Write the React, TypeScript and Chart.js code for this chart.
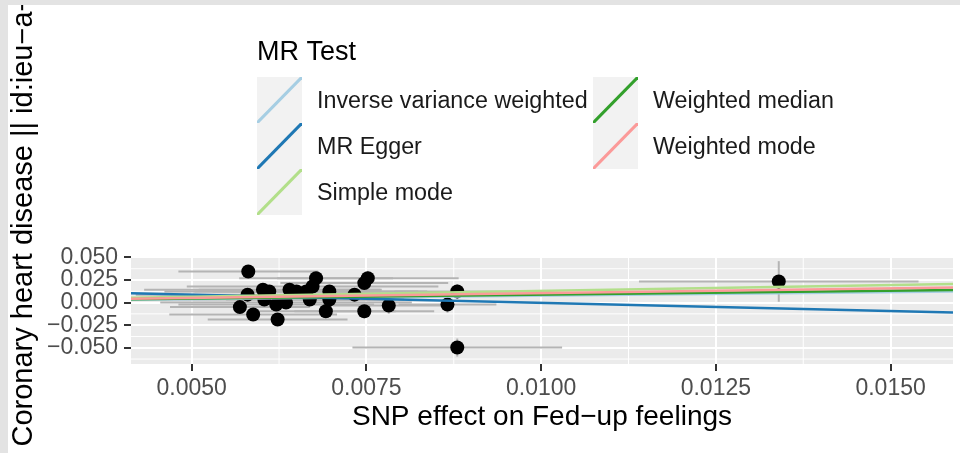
import React, { useEffect, useRef } from "react";
import { Chart, registerables } from "chart.js";

Chart.register(...registerables);

// ---- data ----
const snpX = [
  0.00581, 0.0058, 0.00569, 0.00588, 0.00602, 0.00604, 0.00611, 0.00621, 0.00623, 0.00635,
  0.0064, 0.0065, 0.00664, 0.00669, 0.00673, 0.00678, 0.00692, 0.00697, 0.00697, 0.00733,
  0.00747, 0.00747, 0.00752, 0.00782, 0.00866, 0.0088, 0.0088, 0.0134,
];
const snpY = [
  0.0344, 0.0088, -0.005, -0.0132, 0.0143, 0.0033, 0.0124, -0.0022, -0.0187, 0.0,
  0.0143, 0.0124, 0.0124, 0.0033, 0.0179, 0.0271, -0.0095, 0.0124, 0.0033, 0.0088,
  -0.0095, 0.0216, 0.0271, -0.0033, -0.0022, 0.0124, -0.0498, 0.0234,
];
const seX = [
  0.001, 0.0016, 0.001, 0.0012, 0.0017, 0.002, 0.0015, 0.0014, 0.001, 0.0018,
  0.0013, 0.0012, 0.0016, 0.0012, 0.0018, 0.0011, 0.001, 0.0014, 0.0009, 0.0012,
  0.001, 0.0012, 0.0013, 0.0008, 0.0007, 0.0009, 0.0015, 0.002,
];
const seY = [
  0.007, 0.007, 0.007, 0.007, 0.007, 0.007, 0.007, 0.007, 0.007, 0.007,
  0.007, 0.007, 0.007, 0.007, 0.007, 0.007, 0.007, 0.007, 0.007, 0.007,
  0.008, 0.008, 0.008, 0.009, 0.009, 0.008, 0.01, 0.0225,
];

const methods = [
  "Inverse variance weighted",
  "MR Egger",
  "Simple mode",
  "Weighted median",
  "Weighted mode",
];
const methodSlopes = [0.78, -1.81, 1.3, 0.88, 1.06];
const methodIntercepts = [0, 0.0178, 0, 0, 0];
const methodColors = ["#a6cee3", "#1f78b4", "#b2df8a", "#33a02c", "#fb9a99"];

const xTickValues = [0.005, 0.0075, 0.01, 0.0125, 0.015];
const xTickLabels = ["0.0050", "0.0075", "0.0100", "0.0125", "0.0150"];
const yTickValues = [-0.05, -0.025, 0, 0.025, 0.05];
const yTickLabels = ["\u22120.050", "\u22120.025", "0.000", "0.025", "0.050"];
const xMinor = [0.00375, 0.00625, 0.00875, 0.01125, 0.01375, 0.01625];
const yMinor = [-0.0625, -0.0375, -0.0125, 0.0125, 0.0375];

const X_MIN = 0.004132;
const X_MAX = 0.015893;
const Y_MIN = -0.068;
const Y_MAX = 0.0505;

const legendTitle = "MR Test";
const xTitle = "SNP effect on Fed\u2212up feelings";
const yTitle = "Coronary heart disease || id:ieu\u2212a\u22127";

const FONT = "'Liberation Sans', Arial, Helvetica, sans-serif";

const plotPlugin = {
  id: "ggplotLook",
  beforeDraw(chart: any) {
    const { ctx, chartArea: a, scales } = chart;
    const x = scales.x;
    const y = scales.y;
    ctx.save();
    ctx.fillStyle = "#ebebeb";
    ctx.fillRect(a.left, a.top, a.right - a.left, a.bottom - a.top);
    ctx.strokeStyle = "#ffffff";
    ctx.lineWidth = 1;
    for (const v of yMinor) {
      const py = y.getPixelForValue(v);
      if (py < a.top || py > a.bottom) continue;
      ctx.beginPath();
      ctx.moveTo(a.left, py);
      ctx.lineTo(a.right, py);
      ctx.stroke();
    }
    for (const v of xMinor) {
      const px = x.getPixelForValue(v);
      if (px < a.left || px > a.right) continue;
      ctx.beginPath();
      ctx.moveTo(px, a.top);
      ctx.lineTo(px, a.bottom);
      ctx.stroke();
    }
    ctx.restore();
  },
  beforeDatasetsDraw(chart: any) {
    const { ctx, chartArea: a, scales } = chart;
    const x = scales.x;
    const y = scales.y;
    ctx.save();
    ctx.beginPath();
    ctx.rect(a.left, a.top, a.right - a.left, a.bottom - a.top);
    ctx.clip();
    ctx.strokeStyle = "#b4b4b4";
    ctx.lineWidth = 2;
    for (let i = 0; i < snpX.length; i++) {
      const px = x.getPixelForValue(snpX[i]);
      const py = y.getPixelForValue(snpY[i]);
      ctx.beginPath();
      ctx.moveTo(x.getPixelForValue(snpX[i] - seX[i]), py);
      ctx.lineTo(x.getPixelForValue(snpX[i] + seX[i]), py);
      ctx.stroke();
      ctx.beginPath();
      ctx.moveTo(px, y.getPixelForValue(snpY[i] - seY[i]));
      ctx.lineTo(px, y.getPixelForValue(snpY[i] + seY[i]));
      ctx.stroke();
    }
    ctx.restore();
  },
  afterDraw(chart: any) {
    const { ctx, chartArea: a } = chart;
    ctx.save();
    // legend
    ctx.fillStyle = "#000000";
    ctx.font = `27px ${FONT}`;
    ctx.textAlign = "left";
    ctx.textBaseline = "alphabetic";
    ctx.fillText(legendTitle, 257, 60);
    const keyW = 45;
    const keyH = 46;
    const top0 = 77;
    const colX = [257, 593];
    methods.forEach((m, i) => {
      const col = i < 3 ? 0 : 1;
      const row = i < 3 ? i : i - 3;
      const kx = colX[col];
      const ky = top0 + row * keyH;
      ctx.fillStyle = "#f2f2f2";
      ctx.fillRect(kx, ky, keyW, keyH);
      ctx.save();
      ctx.beginPath();
      ctx.rect(kx, ky, keyW, keyH);
      ctx.clip();
      ctx.strokeStyle = methodColors[i];
      ctx.lineWidth = 3;
      ctx.beginPath();
      ctx.moveTo(kx, ky + keyH);
      ctx.lineTo(kx + keyW, ky);
      ctx.stroke();
      ctx.restore();
      ctx.fillStyle = "#1a1a1a";
      ctx.font = `23.3px ${FONT}`;
      ctx.fillText(m, kx + 60, ky + 31);
    });
    // x title
    ctx.fillStyle = "#000000";
    ctx.font = `28px ${FONT}`;
    ctx.textAlign = "center";
    ctx.fillText(xTitle, (a.left + a.right) / 2, 425);
    // y title
    ctx.save();
    ctx.font = `29px ${FONT}`;
    ctx.translate(31.5, 446.5);
    ctx.rotate(-Math.PI / 2);
    ctx.textAlign = "left";
    ctx.fillText(yTitle, 0, 0);
    ctx.restore();
    // outer frame
    ctx.fillStyle = "#e3e3e3";
    ctx.fillRect(0, 0, chart.width, 5);
    ctx.fillRect(0, 0, 8, chart.height);
    ctx.restore();
  },
};

export default function App() {
  const ref = useRef<HTMLCanvasElement | null>(null);
  useEffect(() => {
    document.body.style.margin = "0";
    const canvas = ref.current;
    if (!canvas) return;
    const lineSets = methods.map((m, i) => ({
      type: "scatter" as const,
      label: m,
      data: [
        { x: X_MIN, y: methodIntercepts[i] + methodSlopes[i] * X_MIN },
        { x: X_MAX, y: methodIntercepts[i] + methodSlopes[i] * X_MAX },
      ],
      showLine: true,
      borderColor: methodColors[i],
      backgroundColor: methodColors[i],
      borderWidth: 2.5,
      pointRadius: 0,
      pointHoverRadius: 0,
      order: 5 - i,
    }));
    const chart = new Chart(canvas, {
      type: "scatter",
      data: {
        datasets: [
          {
            label: "SNPs",
            data: snpX.map((v, i) => ({ x: v, y: snpY[i] })),
            backgroundColor: "#000000",
            borderWidth: 0,
            pointRadius: 7,
            pointHoverRadius: 7,
            order: 10,
          },
          ...lineSets,
        ],
      },
      options: {
        animation: false,
        responsive: false,
        events: [],
        layout: { padding: { top: 257, right: 3, left: 0, bottom: 0 } },
        plugins: { legend: { display: false }, tooltip: { enabled: false } },
        scales: {
          x: {
            type: "linear",
            min: X_MIN,
            max: X_MAX,
            afterFit: (s: any) => {
              s.height = 89;
            },
            afterBuildTicks: (s: any) => {
              s.ticks = xTickValues.map((v) => ({ value: v }));
            },
            border: { display: false },
            grid: {
              color: "#ffffff",
              lineWidth: 2,
              tickColor: "#333333",
              tickLength: 7,
              tickWidth: 2,
            },
            ticks: {
              autoSkip: false,
              maxRotation: 0,
              padding: 4,
              color: "#4d4d4d",
              font: { family: FONT, size: 23 },
              callback: (_v: any, i: number) => xTickLabels[i],
            },
          },
          y: {
            type: "linear",
            min: Y_MIN,
            max: Y_MAX,
            afterFit: (s: any) => {
              s.width = 131;
            },
            afterBuildTicks: (s: any) => {
              s.ticks = yTickValues.map((v) => ({ value: v }));
            },
            border: { display: false },
            grid: {
              color: "#ffffff",
              lineWidth: 2,
              tickColor: "#333333",
              tickLength: 7,
              tickWidth: 2,
            },
            ticks: {
              autoSkip: false,
              padding: 6,
              color: "#4d4d4d",
              font: { family: FONT, size: 23 },
              callback: (_v: any, i: number) => yTickLabels[i],
            },
          },
        },
      },
      plugins: [plotPlugin],
    });
    return () => chart.destroy();
  }, []);
  return (
    <canvas
      ref={ref}
      width={960}
      height={453}
      style={{ display: "block", width: 960, height: 453 }}
    />
  );
}
